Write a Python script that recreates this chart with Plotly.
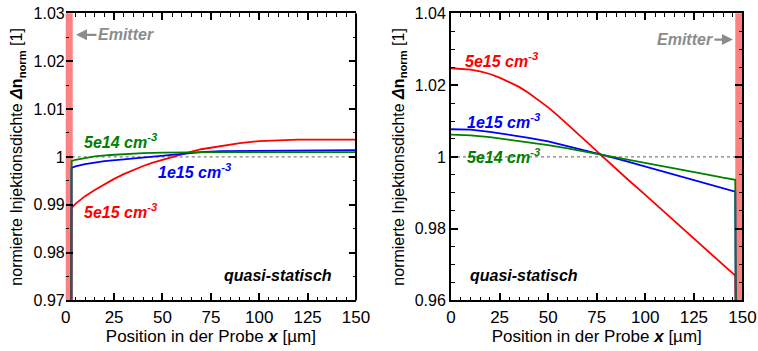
import plotly.graph_objects as go
from plotly.subplots import make_subplots

# ---- Left panel: emitter at x = 0 ----
left_x_5e15 = [2.9, 3.0, 5, 10, 15, 20, 25, 30, 35, 40, 45, 50, 55, 60, 65, 70, 80, 90, 100, 110, 120, 135, 150]
left_y_5e15 = [0.96, 0.9893, 0.9902, 0.9918, 0.9931, 0.9943, 0.9954, 0.9964, 0.9973, 0.9981, 0.9988, 0.9994,
               1.0000, 1.0006, 1.0011, 1.0016, 1.0023, 1.0029, 1.0033, 1.0035, 1.0036, 1.0036, 1.0036]

left_x_1e15 = [2.9, 3.0, 5, 10, 15, 20, 30, 40, 50, 60, 70, 80, 100, 125, 150]
left_y_1e15 = [0.96, 0.9977, 0.9980, 0.9985, 0.9988, 0.9991, 0.9995, 0.9999, 1.0003, 1.0007, 1.0010, 1.0012,
               1.0013, 1.0014, 1.0014]

left_x_5e14 = [2.9, 3.0, 5, 8, 15, 23, 30, 40, 50, 64, 80, 150]
left_y_5e14 = [0.96, 0.9991, 0.9994, 0.9996, 1.0001, 1.0004, 1.0006, 1.0008, 1.0009, 1.0010, 1.0010, 1.0010]

# ---- Right panel: emitter at x = 150 ----
right_x_5e15 = [0, 5, 10, 15, 20, 25, 30, 35, 40, 45, 50, 55, 60, 65, 70, 75, 80, 90, 100, 110, 120, 130, 140,
                146.3, 146.6]
right_y_5e15 = [1.0247, 1.0246, 1.0243, 1.0238, 1.0231, 1.0221, 1.0209, 1.0195, 1.0178, 1.0159, 1.0138, 1.0115,
                1.0091, 1.0066, 1.0041, 1.0016, 0.9991, 0.9942, 0.9894, 0.9845, 0.9797, 0.9748, 0.9700,
                0.9669, 0.95]

right_x_1e15 = [0, 10, 20, 30, 40, 50, 60, 70, 76, 80, 90, 100, 110, 120, 130, 140, 146.3, 146.6]
right_y_1e15 = [1.0077, 1.0076, 1.0070, 1.0062, 1.0053, 1.0043, 1.0030, 1.0016, 1.0008, 1.0003, 0.9988, 0.9973,
                0.9958, 0.9943, 0.9928, 0.9913, 0.9903, 0.95]

right_x_5e14 = [0, 10, 20, 30, 40, 50, 60, 70, 76, 80, 90, 100, 110, 120, 130, 140, 146.3, 146.6]
right_y_5e14 = [1.0062, 1.0060, 1.0055, 1.0048, 1.0041, 1.0033, 1.0024, 1.0014, 1.0008, 1.0004, 0.9994, 0.9984,
                0.9973, 0.9963, 0.9953, 0.9942, 0.9936, 0.95]

# emitter regions (x range in µm)
left_emitter = [0, 3.6]
right_emitter = [146.3, 150]

# axis ticks
x_ticks = [0, 25, 50, 75, 100, 125, 150]
x_ticktext = ["0", "25", "50", "75", "100", "125", "150"]
left_y_ticks = [0.97, 0.98, 0.99, 1.0, 1.01, 1.02, 1.03]
left_y_ticktext = ["0.97", "0.98", "0.99", "1", "1.01", "1.02", "1.03"]
right_y_ticks = [0.96, 0.98, 1.0, 1.02, 1.04]
right_y_ticktext = ["0.96", "0.98", "1", "1.02", "1.04"]

RED, BLUE, GREEN = "#ff0000", "#0000ff", "#008000"
GRAY = "#8c8c8c"
BAND = "#ff8080"
FONT = "Arial, Liberation Sans, sans-serif"

fig = make_subplots(rows=1, cols=2)

series = [
    (left_x_5e15, left_y_5e15, RED, 1, 1),
    (left_x_1e15, left_y_1e15, BLUE, 1, 1),
    (left_x_5e14, left_y_5e14, GREEN, 1, 1),
    (right_x_5e15, right_y_5e15, RED, 1, 2),
    (right_x_1e15, right_y_1e15, BLUE, 1, 2),
    (right_x_5e14, right_y_5e14, GREEN, 1, 2),
]
for xs, ys, col, r, c in series:
    fig.add_trace(go.Scatter(x=xs, y=ys, mode="lines", line=dict(color=col, width=1.8),
                             showlegend=False, hoverinfo="skip"), row=r, col=c)

# reference line at 1 and emitter bands
for xr, yr in (("x", "y"), ("x2", "y2")):
    fig.add_shape(type="line", xref=xr, yref=yr, x0=0, x1=150, y0=1, y1=1,
                  line=dict(color="#808080", width=1.2, dash="3px,3px"), layer="below")
fig.add_shape(type="rect", xref="x", yref="y domain", x0=left_emitter[0] - 0.6, x1=left_emitter[1],
              y0=0, y1=1, fillcolor=BAND, line_width=0, layer="below")
fig.add_shape(type="rect", xref="x2", yref="y2 domain", x0=right_emitter[0], x1=right_emitter[1],
              y0=0, y1=1, fillcolor=BAND, line_width=0, layer="below")
# right frame edge of the left panel (its left edge is covered by the emitter)
fig.add_shape(type="line", xref="x domain", yref="y domain", x0=1, x1=1, y0=0, y1=1,
              line=dict(color="black", width=2), layer="above")

tick_font = dict(family=FONT, size=16, color="black")
common_x = dict(range=[0, 150], tickmode="array", tickvals=x_ticks, ticktext=x_ticktext,
                ticks="inside", ticklen=7, tickwidth=1.5, tickcolor="black", automargin=False,
                showline=True, linecolor="black", linewidth=2, mirror="allticks",
                showgrid=False, zeroline=False, tickfont=dict(family=FONT, size=17, color="black"),
                minor=dict(tickmode="linear", tick0=0, dtick=5, ticks="inside", ticklen=3.5,
                           tickwidth=1.2, tickcolor="black"),
                title=dict(text="Position in der Probe <b><i>x</i></b> [µm]",
                           font=dict(family=FONT, size=17, color="black"), standoff=4))

ytitle = "normierte Injektionsdichte <b><i>Δ</i>n<sub>norm</sub></b> [1]"

fig.update_xaxes(domain=[0.0867, 0.4697], **common_x, row=1, col=1)
fig.update_xaxes(domain=[0.595, 0.9795], **common_x, row=1, col=2)

fig.update_yaxes(range=[0.97, 1.03], tickmode="array", tickvals=left_y_ticks, ticktext=left_y_ticktext,
                 domain=[0.144, 0.962], ticks="inside", ticklen=7, tickwidth=1.5, tickcolor="black",
                 showline=False, mirror="allticks", showgrid=False, zeroline=False, tickfont=tick_font,
                 automargin=False,
                 minor=dict(tickmode="linear", tick0=0.97, dtick=0.005, ticks="inside", ticklen=3.5,
                            tickwidth=1.2, tickcolor="black"),
                 title=dict(text=ytitle, font=dict(family=FONT, size=16, color="black"), standoff=6),
                 row=1, col=1)
fig.update_yaxes(range=[0.96, 1.04], tickmode="array", tickvals=right_y_ticks, ticktext=right_y_ticktext,
                 domain=[0.144, 0.962], ticks="inside", ticklen=7, tickwidth=1.5, tickcolor="black",
                 showline=True, linecolor="black", linewidth=2, mirror="allticks", showgrid=False,
                 zeroline=False, tickfont=tick_font, automargin=False,
                 minor=dict(tickmode="linear", tick0=0.96, dtick=0.005, ticks="inside", ticklen=3.5,
                            tickwidth=1.2, tickcolor="black"),
                 title=dict(text=ytitle, font=dict(family=FONT, size=16, color="black"), standoff=6),
                 row=1, col=2)


def label(text, x, y, color, xref, yref, xanchor="left", size=16):
    fig.add_annotation(text=text, x=x, y=y, xref=xref, yref=yref, xanchor=xanchor, yanchor="middle",
                       showarrow=False, font=dict(family=FONT, size=size, color=color))


# left panel labels
label("<b><i>5e14 cm<sup>-3</sup></i></b>", 8.2, 1.0034, GREEN, "x", "y")
label("<b><i>1e15 cm<sup>-3</sup></i></b>", 46.9, 0.9971, BLUE, "x", "y")
label("<b><i>5e15 cm<sup>-3</sup></i></b>", 8.2, 0.9887, RED, "x", "y")
label("<b><i>quasi-statisch</i></b>", 109.7, 0.9752, "black", "x", "y", xanchor="center")

# right panel labels
label("<b><i>5e15 cm<sup>-3</sup></i></b>", 6.3, 1.0271, RED, "x2", "y2")
label("<b><i>1e15 cm<sup>-3</sup></i></b>", 7.2, 1.0100, BLUE, "x2", "y2")
label("<b><i>5e14 cm<sup>-3</sup></i></b>", 7.2, 1.0003, GREEN, "x2", "y2")
label("<b><i>quasi-statisch</i></b>", 37.4, 0.9670, "black", "x2", "y2", xanchor="center")

# emitter markers with arrows pointing at the emitter side
fig.add_annotation(text="<b><i>Emitter</i></b>", x=5.3, y=1.0255, xref="x", yref="y",
                   ax=50, ay=0, showarrow=True, arrowhead=2, arrowsize=1, arrowwidth=2.2,
                   arrowcolor=GRAY, font=dict(family=FONT, size=16, color=GRAY))
fig.add_annotation(text="<b><i>Emitter</i></b>", x=145.1, y=1.0327, xref="x2", yref="y2",
                   ax=-48, ay=0, showarrow=True, arrowhead=2, arrowsize=1, arrowwidth=2.2,
                   arrowcolor=GRAY, font=dict(family=FONT, size=16, color=GRAY))

fig.update_layout(width=758, height=351, margin=dict(l=0, r=0, t=0, b=0),
                  paper_bgcolor="white", plot_bgcolor="white", showlegend=False)

fig.write_html("out.html")
